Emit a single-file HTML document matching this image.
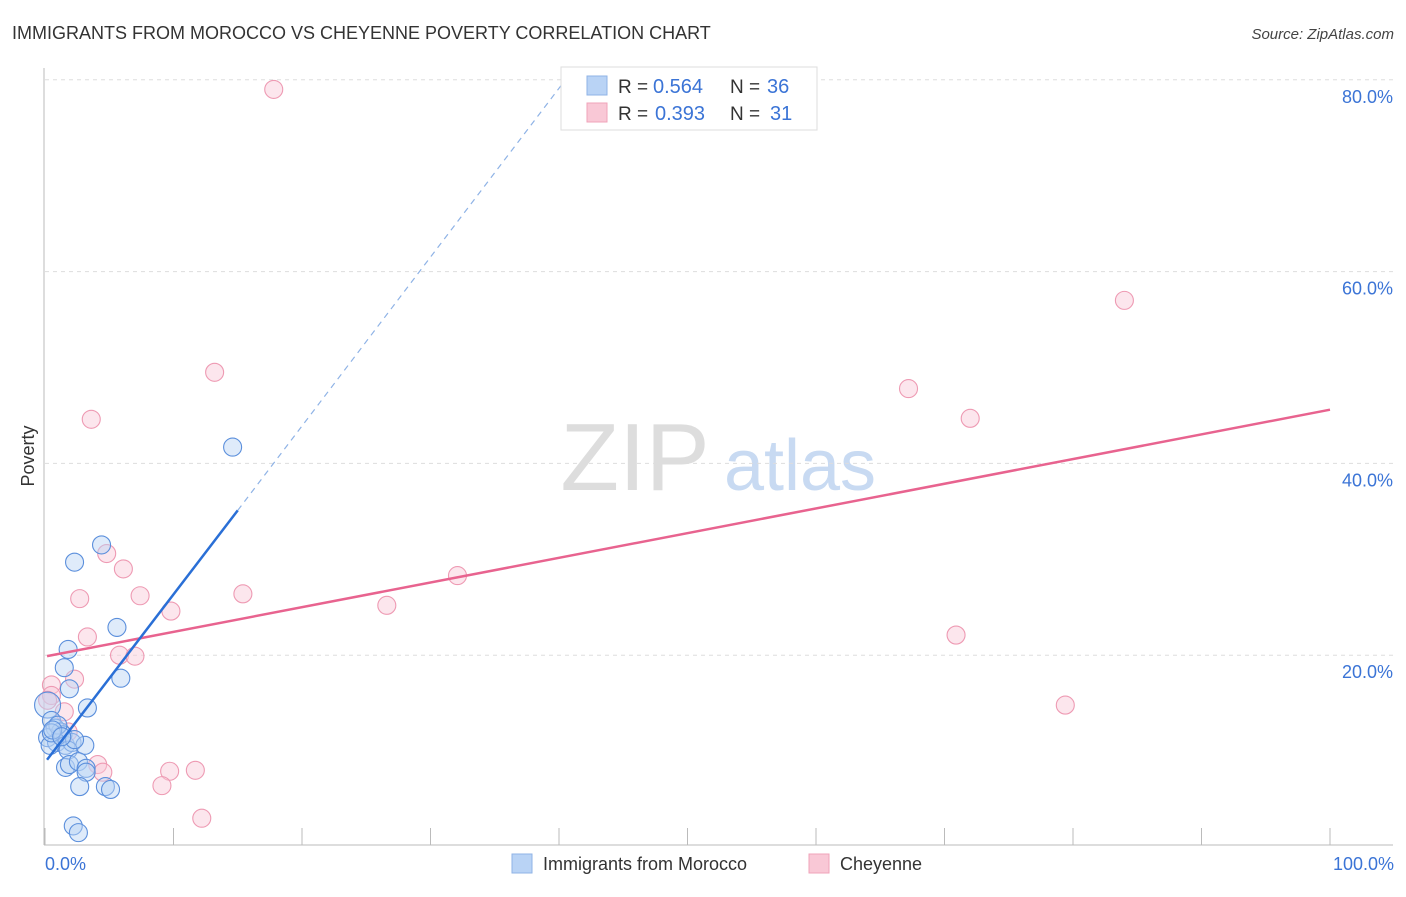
<!DOCTYPE html>
<html><head><meta charset="utf-8"><style>
body{margin:0;background:#fff;font-family:"Liberation Sans",sans-serif;}
svg text{font-family:"Liberation Sans",sans-serif;}
</style></head><body>
<svg id="chart" width="1406" height="892">
<text x="12" y="39" font-size="18" fill="#333">IMMIGRANTS FROM MOROCCO VS CHEYENNE POVERTY CORRELATION CHART</text>
<text x="1394" y="39" font-size="15" fill="#444" text-anchor="end" font-style="italic">Source: ZipAtlas.com</text>
<g>
<text x="635" y="490" font-size="96" fill="#ddd" font-family="Liberation Serif, serif" text-anchor="middle">ZIP</text>
<text x="800" y="490" font-size="72" fill="#c8daf2" text-anchor="middle">atlas</text>
</g>
<g id="grid"></g>
<g id="axes"></g>
<g id="marks"></g>
<text transform="translate(34,456) rotate(-90)" font-size="18" fill="#333" text-anchor="middle">Poverty</text>
<text x="45" y="870" font-size="18" fill="#3b74d6">0.0%</text>
<text x="1394" y="870" font-size="18" fill="#3b74d6" text-anchor="end">100.0%</text>
<g>
<rect x="561" y="67" width="256" height="63" fill="#fff" stroke="#ddd"/>
<rect x="587" y="76" width="20" height="19" fill="#b9d3f5" stroke="#8fb3e6"/>
<rect x="587" y="103" width="20" height="19" fill="#f9c8d6" stroke="#f0a3ba"/>
<text x="618" y="93" font-size="19" fill="#333">R =</text>
<text x="653" y="93" font-size="20" fill="#3b74d6">0.564</text>
<text x="730" y="93" font-size="19" fill="#333">N =</text>
<text x="767" y="93" font-size="20" fill="#3b74d6">36</text>
<text x="618" y="120" font-size="19" fill="#333">R =</text>
<text x="655" y="120" font-size="20" fill="#3b74d6">0.393</text>
<text x="730" y="120" font-size="19" fill="#333">N =</text>
<text x="770" y="120" font-size="20" fill="#3b74d6">31</text>
</g>
<g>
<rect x="512" y="854" width="20" height="19" fill="#b9d3f5" stroke="#8fb3e6"/>
<text x="543" y="870" font-size="18" fill="#333">Immigrants from Morocco</text>
<rect x="809" y="854" width="20" height="19" fill="#f9c8d6" stroke="#f0a3ba"/>
<text x="840" y="870" font-size="18" fill="#333">Cheyenne</text>
</g>
</svg>
<script>
const yTicks=[20,40,60,80];
const yTickLabels=["20.0%","40.0%","60.0%","80.0%"];
const xTicks=[0,10,20,30,40,50,60,70,80,90,100];
const blueX=[14.6,4.4,2.3,5.6,1.8,1.5,5.9,1.9,3.3,0.2,0.5,0.8,1.2,0.2,1.4,0.9,1.6,2.1,3.1,0.4,1.0,1.8,1.6,1.9,2.6,3.2,3.2,2.7,4.7,5.1,2.2,2.6,0.5,2.3,0.6,1.3];
const blueY=[41.7,31.5,29.7,22.9,20.6,18.7,17.6,16.5,14.5,14.8,13.2,12.4,12.0,11.4,11.7,10.9,10.6,10.9,10.6,10.6,12.7,10.1,8.3,8.6,8.9,8.2,7.8,6.3,6.3,6.0,2.2,1.5,11.9,11.2,12.2,11.5];
const pinkX=[17.8,13.2,3.6,4.8,6.1,2.7,7.4,15.4,9.8,32.1,26.6,84.0,67.2,72.0,70.9,79.4,3.3,5.8,7.0,0.5,0.5,2.3,1.5,1.8,4.1,4.5,9.7,11.7,9.1,12.2,0.2];
const pinkY=[79.0,49.5,44.6,30.6,29.0,25.9,26.2,26.4,24.6,28.3,25.2,57.0,47.8,44.7,22.1,14.8,21.9,20.0,19.9,16.9,15.8,17.5,14.1,12.0,8.6,7.8,7.9,8.0,6.4,3.0,15.3];
const blueTrend=[[0.16,9.1],[15.0,35.1]];
const blueTrendExt=[[15.0,35.1],[40.5,80.0]];
const pinkTrend=[[0.16,19.9],[100,45.6]];
const X=v=>45+v*12.85, Y=v=>847-v*9.59;
const NS="http://www.w3.org/2000/svg";
function mk(t,a,p){const e=document.createElementNS(NS,t);for(const k in a)e.setAttribute(k,a[k]);p.appendChild(e);return e;}
const grid=document.getElementById('grid'),axes=document.getElementById('axes'),marks=document.getElementById('marks');
yTicks.forEach((t,i)=>{
 const l=mk('line',{x1:45,x2:1393,y1:Y(t),y2:Y(t),stroke:'#ddd','stroke-dasharray':'4,4'},grid);
 
 
 const tx=mk('text',{x:1393,y:Y(t)+23,'font-size':18,fill:'#3b74d6','text-anchor':'end'},axes);
 tx.textContent=yTickLabels[i];
 
 
});
const ya=mk('line',{x1:44,x2:44,y1:68,y2:845,stroke:'#bbb'},axes);


const xa=mk('line',{x1:44,x2:1393,y1:845,y2:845,stroke:'#bbb'},axes);


xTicks.forEach(t=>{
 const l=mk('line',{x1:X(t),x2:X(t),y1:828,y2:845,stroke:'#bbb'},axes);
 
 
});
function dots(xs,ys,fill,stroke,name){
 xs.forEach((x,i)=>{
  const r=(x<0.3&&ys[i]>14&&ys[i]<15&&name==='blue-point')?13:9;
  const c=mk('circle',{cx:X(x),cy:Y(ys[i]),r:r,fill:fill,'fill-opacity':0.45,stroke:stroke,'stroke-width':1.1},marks);
  
  
 });
}
dots(pinkX,pinkY,'#f9c8d6','#ee9ab3','pink-point');
dots(blueX,blueY,'#b9d3f5','#5b8fdc','blue-point');
function line(p,stroke,w,dash,name){
 const l=mk('line',{x1:X(p[0][0]),y1:Y(p[0][1]),x2:X(p[1][0]),y2:Y(p[1][1]),stroke:stroke,'stroke-width':w},marks);
 if(dash)l.setAttribute('stroke-dasharray',dash);
 
 
}
line(pinkTrend,'#e8638f',2.5,null,'cheyenne-trend-line');
line(blueTrend,'#2a6fd6',2.5,null,'morocco-trend-line');
line(blueTrendExt,'#8fb3e6',1.2,'6,5','morocco-trend-extension');
</script>
</body></html>
